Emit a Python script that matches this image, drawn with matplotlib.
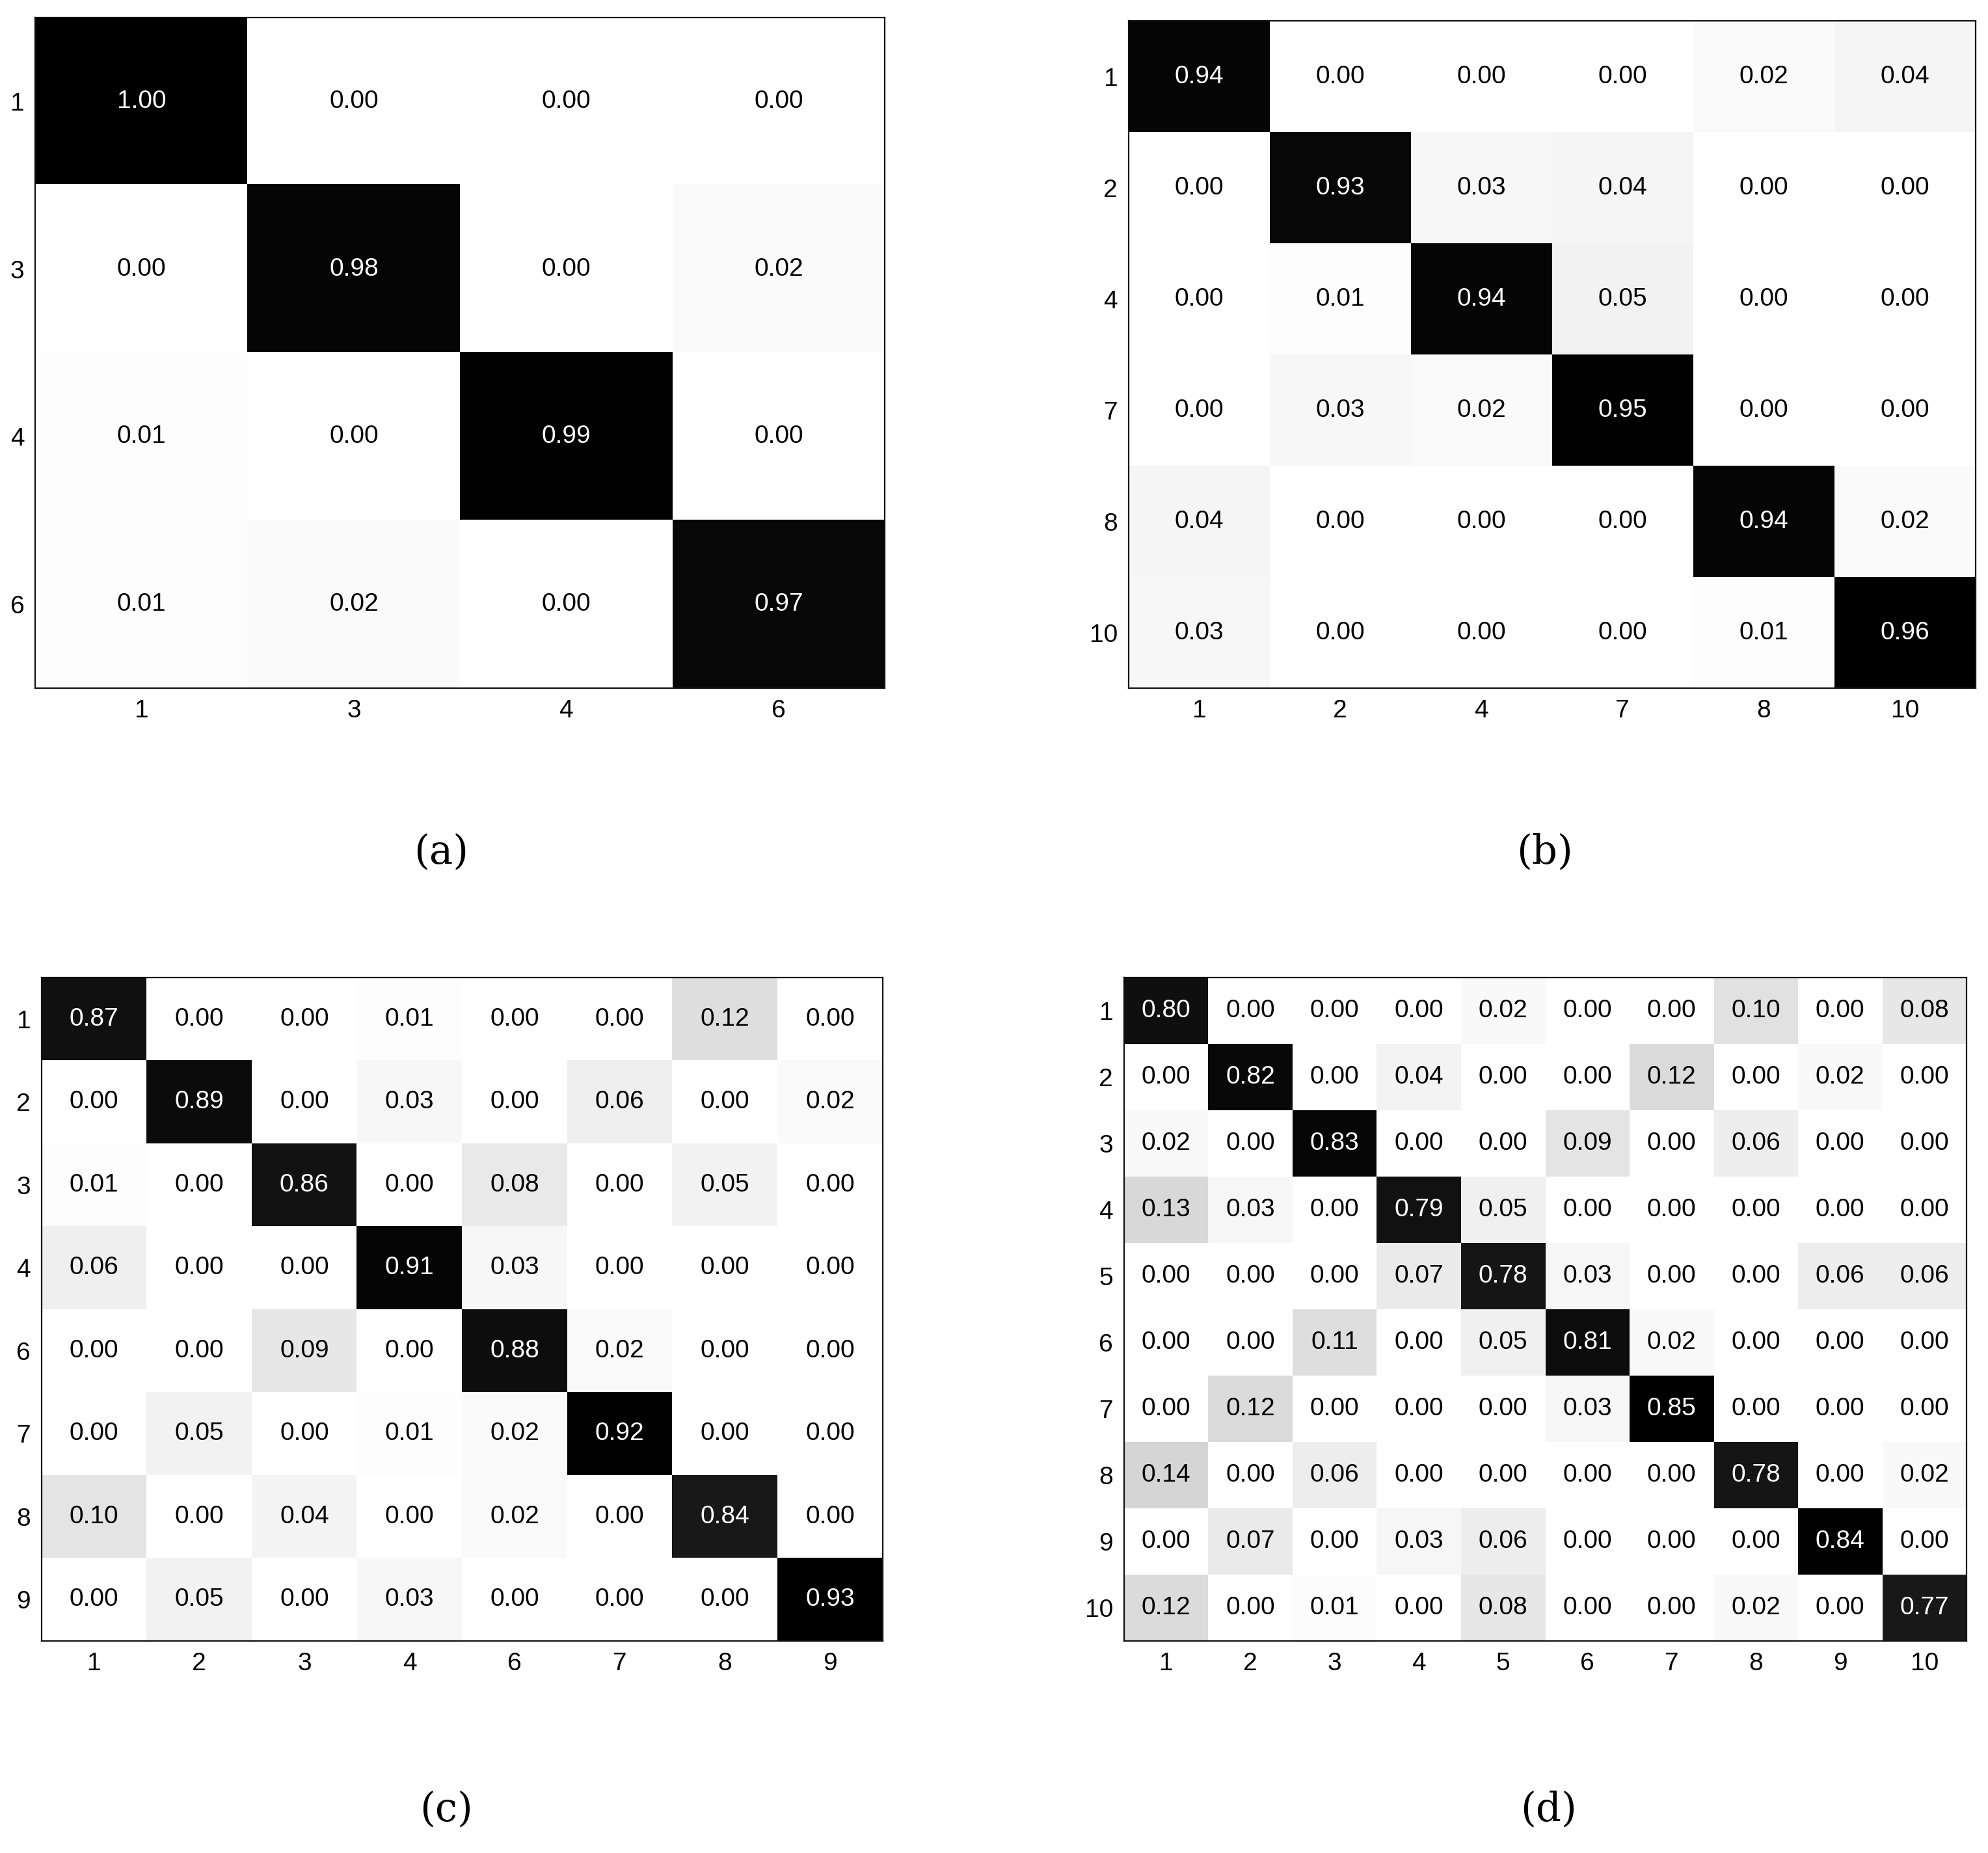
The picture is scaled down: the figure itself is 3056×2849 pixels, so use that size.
import numpy as np
import matplotlib
matplotlib.use("Agg")
import matplotlib.pyplot as plt

# class labels for each panel
labels_a = ["1", "3", "4", "6"]
labels_b = ["1", "2", "4", "7", "8", "10"]
labels_c = ["1", "2", "3", "4", "6", "7", "8", "9"]
labels_d = ["1", "2", "3", "4", "5", "6", "7", "8", "9", "10"]

# confusion matrices (rows = true class, cols = predicted)
conf_a = [[1.00, 0.00, 0.00, 0.00],
          [0.00, 0.98, 0.00, 0.02],
          [0.01, 0.00, 0.99, 0.00],
          [0.01, 0.02, 0.00, 0.97]]

conf_b = [[0.94, 0.00, 0.00, 0.00, 0.02, 0.04],
          [0.00, 0.93, 0.03, 0.04, 0.00, 0.00],
          [0.00, 0.01, 0.94, 0.05, 0.00, 0.00],
          [0.00, 0.03, 0.02, 0.95, 0.00, 0.00],
          [0.04, 0.00, 0.00, 0.00, 0.94, 0.02],
          [0.03, 0.00, 0.00, 0.00, 0.01, 0.96]]

conf_c = [[0.87, 0.00, 0.00, 0.01, 0.00, 0.00, 0.12, 0.00],
          [0.00, 0.89, 0.00, 0.03, 0.00, 0.06, 0.00, 0.02],
          [0.01, 0.00, 0.86, 0.00, 0.08, 0.00, 0.05, 0.00],
          [0.06, 0.00, 0.00, 0.91, 0.03, 0.00, 0.00, 0.00],
          [0.00, 0.00, 0.09, 0.00, 0.88, 0.02, 0.00, 0.00],
          [0.00, 0.05, 0.00, 0.01, 0.02, 0.92, 0.00, 0.00],
          [0.10, 0.00, 0.04, 0.00, 0.02, 0.00, 0.84, 0.00],
          [0.00, 0.05, 0.00, 0.03, 0.00, 0.00, 0.00, 0.93]]

conf_d = [[0.80, 0.00, 0.00, 0.00, 0.02, 0.00, 0.00, 0.10, 0.00, 0.08],
          [0.00, 0.82, 0.00, 0.04, 0.00, 0.00, 0.12, 0.00, 0.02, 0.00],
          [0.02, 0.00, 0.83, 0.00, 0.00, 0.09, 0.00, 0.06, 0.00, 0.00],
          [0.13, 0.03, 0.00, 0.79, 0.05, 0.00, 0.00, 0.00, 0.00, 0.00],
          [0.00, 0.00, 0.00, 0.07, 0.78, 0.03, 0.00, 0.00, 0.06, 0.06],
          [0.00, 0.00, 0.11, 0.00, 0.05, 0.81, 0.02, 0.00, 0.00, 0.00],
          [0.00, 0.12, 0.00, 0.00, 0.00, 0.03, 0.85, 0.00, 0.00, 0.00],
          [0.14, 0.00, 0.06, 0.00, 0.00, 0.00, 0.00, 0.78, 0.00, 0.02],
          [0.00, 0.07, 0.00, 0.03, 0.06, 0.00, 0.00, 0.00, 0.84, 0.00],
          [0.12, 0.00, 0.01, 0.00, 0.08, 0.00, 0.00, 0.02, 0.00, 0.77]]

plt.rcParams["font.family"] = ["Liberation Sans", "DejaVu Sans"]

fig = plt.figure(figsize=(30.56, 28.49), dpi=100)

panels = [
    (conf_a, labels_a, [0.0177, 0.6286, 0.4274, 0.3619], "(a)", (0.222, 0.540)),
    (conf_b, labels_b, [0.5677, 0.6286, 0.4260, 0.3601], "(b)", (0.777, 0.540)),
    (conf_c, labels_c, [0.0209, 0.1144, 0.4231, 0.3580], "(c)", (0.2245, 0.0235)),
    (conf_d, labels_d, [0.5654, 0.1144, 0.4238, 0.3580], "(d)", (0.779, 0.0235)),
]

for mat, labels, rect, tag, tagpos in panels:
    m = np.array(mat)
    ax = fig.add_axes(rect)
    # grey scale scaled to the largest value of each matrix
    ax.imshow(m, cmap="gray_r", vmin=0, vmax=m.max(), aspect="auto",
              interpolation="nearest")
    n = len(labels)
    for i in range(n):
        for j in range(n):
            col = "white" if m[i, j] > 0.5 * m.max() else "black"
            ax.text(j, i, "%.2f" % m[i, j], ha="center", va="center",
                    color=col, fontsize=28)
    ax.set_xticks(range(n))
    ax.set_xticklabels(labels)
    ax.set_yticks(range(n))
    ax.set_yticklabels(labels)
    ax.tick_params(axis="both", length=0, labelsize=28, pad=12)
    for sp in ax.spines.values():
        sp.set_linewidth(1.6)
        sp.set_color("#111111")
    fig.text(tagpos[0], tagpos[1], tag, ha="center", va="center",
             fontsize=44, family=["DejaVu Serif"])

fig.savefig("out.png", dpi=100)
